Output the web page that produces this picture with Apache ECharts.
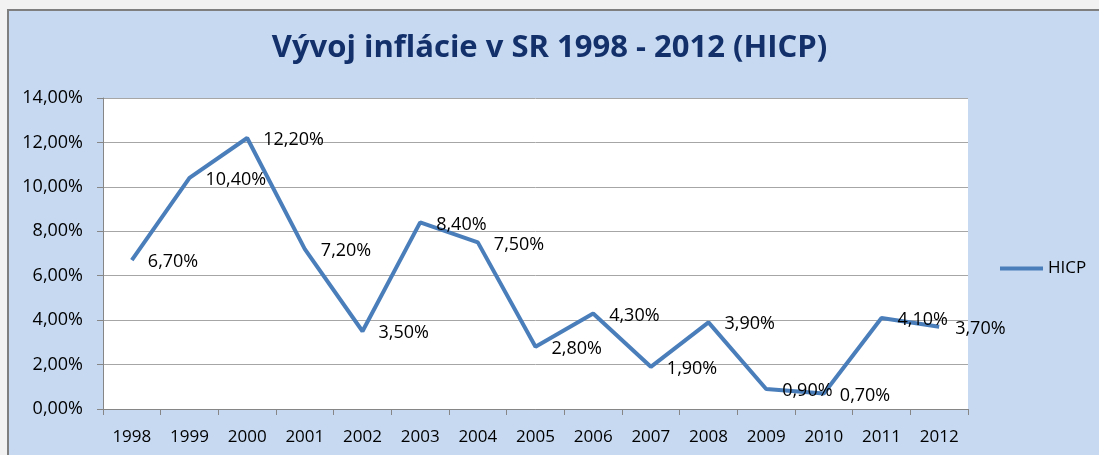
<!DOCTYPE html>
<html>
<head>
<meta charset="utf-8">
<script src="https://cdn.jsdelivr.net/npm/echarts@6/dist/echarts.min.js"></script>
<style>
  html, body { margin: 0; padding: 0; background: #f2f2f2; }
  #frame {
    position: absolute; left: 7px; top: 9px; width: 1092px; height: 446px;
    background: #c6d9f1; border-left: 2px solid #7f7f7f; border-top: 2px solid #7f7f7f;
  }
  #main { position: absolute; left: 0; top: 0; width: 1099px; height: 455px; }
</style>
</head>
<body>
<div id="frame"></div>
<div id="main"></div>
<script>
// roky a hodnoty inflacie (HICP, v %)
const years = ['1998', '1999', '2000', '2001', '2002', '2003', '2004', '2005',
  '2006', '2007', '2008', '2009', '2010', '2011', '2012'];
const hicp = [6.7, 10.4, 12.2, 7.2, 3.5, 8.4, 7.5, 2.8, 4.3, 1.9, 3.9, 0.9, 0.7, 4.1, 3.7];
const yMin = 0, yMax = 14, yStep = 2;

const pct = v => v.toFixed(2).replace('.', ',') + '%';
const font = '"Open Sans", sans-serif';

const chart = echarts.init(document.getElementById('main'));
chart.setOption({
  backgroundColor: 'transparent',
  animation: false,
  title: {
    text: 'Vývoj inflácie v SR 1998 - 2012 (HICP)',
    left: 'center', top: 28,
    textStyle: { fontFamily: font, fontWeight: 'bold', fontSize: 31, color: '#13306b' }
  },
  legend: {
    left: 995, top: 255,
    icon: 'rect', itemWidth: 43, itemHeight: 4,
    textStyle: { fontFamily: font, fontSize: 17, color: '#000' },
    data: ['HICP']
  },
  grid: {
    left: 103, right: 131, top: 98, bottom: 46,
    show: true, backgroundColor: '#ffffff', borderWidth: 0
  },
  xAxis: {
    type: 'category', data: years, boundaryGap: true,
    axisLine: { lineStyle: { color: '#868686', width: 1 } },
    axisTick: { show: true, length: 6, lineStyle: { color: '#868686' } },
    axisLabel: { margin: 20, fontFamily: font, fontSize: 17, color: '#000' }
  },
  yAxis: {
    type: 'value', min: yMin, max: yMax, interval: yStep,
    axisLine: { show: true, lineStyle: { color: '#868686', width: 1 } },
    axisTick: { show: true, length: 6, lineStyle: { color: '#868686' } },
    splitLine: { lineStyle: { color: '#a6a6a6', width: 1 } },
    axisLabel: { margin: 20, fontFamily: font, fontSize: 18, color: '#000', formatter: pct }
  },
  series: [{
    name: 'HICP', type: 'line', data: hicp,
    showSymbol: true, symbol: 'circle', symbolSize: 0,
    lineStyle: { color: '#4a7ebb', width: 4 },
    itemStyle: { color: '#4a7ebb' },
    label: {
      show: true, position: 'right', distance: 16, offset: [0, 2],
      fontFamily: font, fontSize: 18, color: '#000',
      formatter: p => pct(p.value)
    }
  }]
});
</script>
</body>
</html>
